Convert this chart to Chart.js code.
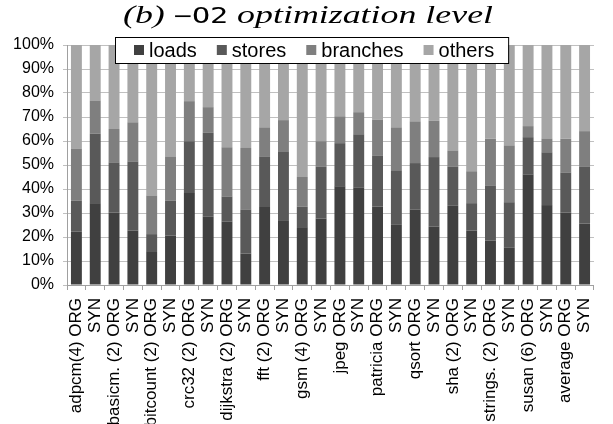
<!DOCTYPE html>
<html>
<head>
<meta charset="utf-8">
<script src="https://cdn.jsdelivr.net/npm/chart.js@4.4.1/dist/chart.umd.min.js"></script>
<style>
  html, body { margin: 0; padding: 0; background: #fff; }
  #wrap { width: 613px; height: 424px; }
</style>
</head>
<body>
<div id="wrap"><canvas id="opChart" width="613" height="424"></canvas></div>
<script>
const benchLabels = ['adpcm(4) ORG', 'SYN', 'basicm. (2) ORG', 'SYN', 'bitcount (2) ORG', 'SYN',
    'crc32 (2) ORG', 'SYN', 'dijkstra (2) ORG', 'SYN', 'fft (2) ORG', 'SYN', 'gsm (4) ORG', 'SYN',
    'jpeg ORG', 'SYN', 'patricia ORG', 'SYN', 'qsort ORG', 'SYN', 'sha (2) ORG', 'SYN',
    'strings. (2) ORG', 'SYN', 'susan (6) ORG', 'SYN', 'average ORG', 'SYN'];

const loads    = [22.3, 34.1, 30.2, 22.7, 14.1, 20.6, 38.3, 28.6, 26.5, 13.1, 32.5, 27.0, 24.1, 27.7,
                  41.1, 40.5, 32.7, 25.3, 31.5, 24.4, 33.0, 22.7, 18.5, 15.5, 46.0, 33.3, 30.2, 25.6];
const stores   = [12.9, 29.0, 20.9, 28.8, 7.1, 14.6, 21.6, 34.8, 10.4, 18.4, 21.1, 28.7, 8.5, 21.7,
                  18.0, 22.3, 21.1, 22.5, 19.3, 28.9, 16.4, 11.4, 23.0, 19.0, 15.6, 22.0, 16.7, 23.6];
const branches = [21.6, 13.8, 13.9, 16.3, 16.1, 18.4, 16.7, 10.7, 20.5, 25.6, 12.1, 13.0, 12.4, 10.5,
                  11.2, 9.2, 15.0, 17.9, 17.4, 15.2, 6.7, 13.3, 19.5, 23.7, 4.6, 5.8, 14.1, 14.9];
const others   = [43.2, 23.1, 35.0, 32.2, 62.7, 46.4, 23.4, 25.9, 42.6, 42.9, 34.3, 31.3, 55.0, 40.1,
                  29.7, 28.0, 31.2, 34.3, 31.8, 31.5, 43.9, 52.6, 39.0, 41.8, 33.8, 38.9, 39.0, 35.9];

const seriesNames = ['loads', 'stores', 'branches', 'others'];
const seriesColors = ['#404040', '#595959', '#7f7f7f', '#a6a6a6'];

// title with mixed fonts, drawn on the canvas (the original is set wide)
const titlePlugin = {
    id: 'mixedTitle',
    afterDraw(chart) {
        const ctx = chart.ctx;
        const parts = [
            { t: '(b) ', f: 'italic 25px "Liberation Serif"' },
            { t: '\u2212O2', f: '21px "DejaVu Sans Mono"' },
            { t: ' optimization level', f: 'italic 25px "Liberation Serif"' }
        ];
        ctx.save();
        let total = 0;
        parts.forEach(p => { ctx.font = p.f; p.w = ctx.measureText(p.t).width; total += p.w; });
        const sx = 370 / total;
        ctx.translate(308, 0);
        ctx.scale(sx, 1);
        let x = -total / 2;
        ctx.fillStyle = '#000';
        ctx.textBaseline = 'alphabetic';
        parts.forEach(p => { ctx.font = p.f; ctx.fillText(p.t, x, 23); x += p.w; });
        ctx.restore();
    }
};

// boxed legend sitting over the top of the plot
const boxLegend = {
    id: 'boxLegend',
    afterDraw(chart) {
        const ctx = chart.ctx;
        const sets = chart.data.datasets;
        ctx.save();
        ctx.font = '20px "Liberation Sans"';
        const left = 115, top = 37, bottom = 63;
        let x = 134;
        const items = sets.map(ds => {
            const w = ctx.measureText(ds.label).width;
            const it = { x: x, w: w, label: ds.label, color: ds.backgroundColor };
            x += 10 + 5 + w + 20;
            return it;
        });
        const last = items[items.length - 1];
        const right = last.x + 15 + last.w + 14;
        ctx.fillStyle = '#fff';
        ctx.fillRect(left, top, right - left, bottom - top);
        ctx.strokeStyle = '#000';
        ctx.lineWidth = 1;
        ctx.strokeRect(left + 0.5, top + 0.5, right - left, bottom - top);
        const cy = (top + bottom) / 2;
        items.forEach(it => {
            ctx.fillStyle = it.color;
            ctx.fillRect(it.x, cy - 5, 10, 10);
            ctx.fillStyle = '#000';
            ctx.textBaseline = 'middle';
            ctx.fillText(it.label, it.x + 15, cy + 1);
        });
        ctx.restore();
    }
};

const datasets = [loads, stores, branches, others].map((vals, i) => ({
    label: seriesNames[i],
    data: vals,
    backgroundColor: seriesColors[i],
    borderWidth: 0,
    barPercentage: 0.58,
    categoryPercentage: 1.0
}));

const ctx = document.getElementById('opChart').getContext('2d');
const opChart = new Chart(ctx, {
    type: 'bar',
    data: {
        labels: benchLabels,
        datasets: datasets
    },
    options: {
        responsive: false,
        animation: false,
        layout: {
            padding: { top: 45, right: 1, left: 0, bottom: 0 }
        },
        plugins: {
            legend: { display: false },
            title: { display: false },
            tooltip: { enabled: false }
        },
        scales: {
            x: {
                stacked: true,
                offset: true,
                afterFit: function (scale) { scale.height = 139; },
                grid: {
                    offset: true,
                    drawOnChartArea: false,
                    drawTicks: true,
                    tickLength: 5,
                    color: '#a0a0a0'
                },
                border: { color: '#a0a0a0' },
                ticks: {
                    autoSkip: false,
                    maxRotation: 90,
                    minRotation: 90,
                    padding: 8,
                    color: '#000',
                    font: { family: '"Liberation Sans"', size: 17 }
                }
            },
            y: {
                stacked: true,
                min: 0,
                max: 100,
                z: 1,
                afterFit: function (scale) { scale.width = 67; },
                grid: {
                    color: '#c0c0c0',
                    tickLength: 4
                },
                border: { color: '#a0a0a0' },
                ticks: {
                    stepSize: 10,
                    padding: 9,
                    color: '#000',
                    font: { family: '"Liberation Sans"', size: 16 },
                    callback: function (v) { return v + '%'; }
                }
            }
        }
    },
    plugins: [titlePlugin, boxLegend]
});
</script>
</body>
</html>
